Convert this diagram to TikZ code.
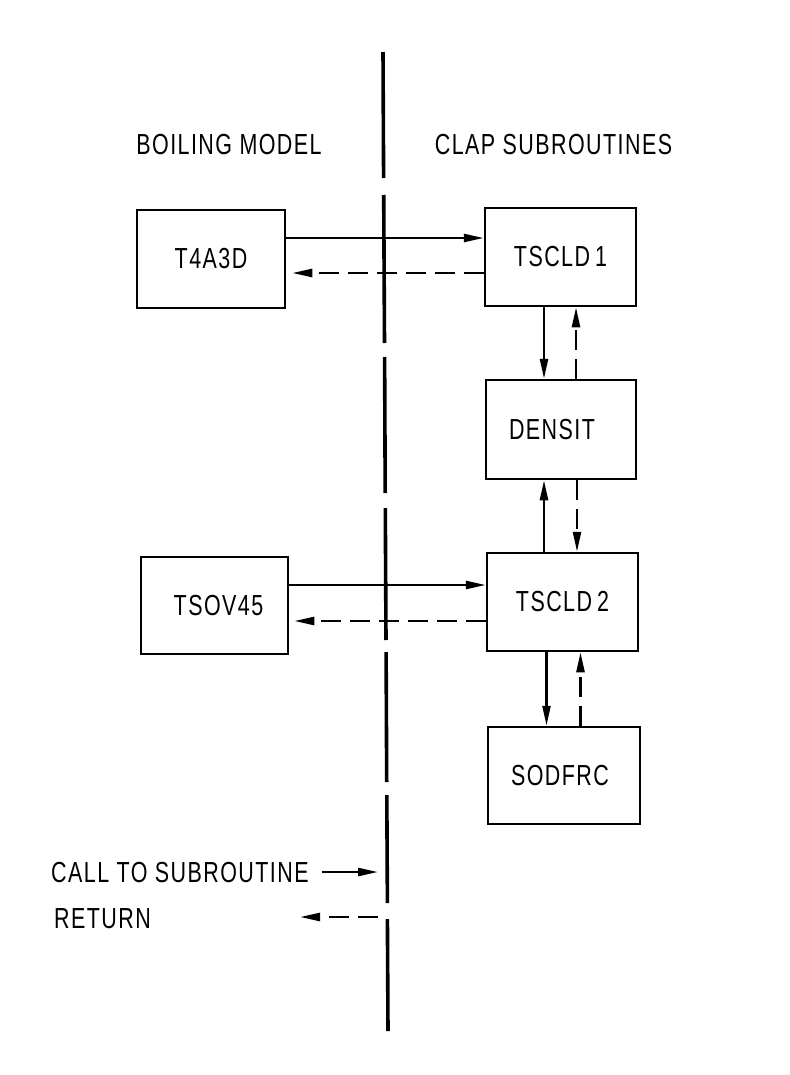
\documentclass[tikz,border=0pt]{standalone}
\usepackage{fontspec}
\setmainfont{Liberation Sans}[FakeStretch=0.74,LetterSpace=5]
\usetikzlibrary{arrows.meta}
\begin{document}
\begin{tikzpicture}[x=1pt,y=-1pt,
  lbl/.style={font=\fontsize{29}{34}\selectfont,inner sep=0pt},
  box/.style={draw,line width=2.5pt,inner sep=0pt,font=\fontsize{29}{34}\selectfont},
  callarrow/.style={line width=2.5pt,-{Triangle[length=20pt,width=8pt]}},
  retarrow/.style={line width=2.5pt,dash pattern=on 20pt off 9pt,-{Triangle[length=20pt,width=8pt]}},
  divider/.style={line width=3.6pt}
]
\fill[white] (0,0) rectangle (789,1075);
\useasboundingbox (0,0) rectangle (789,1075);

% headings
\node[lbl,anchor=base] (hleft) at (229,155) {BOILING MODEL};
\node[lbl,anchor=base] (hright) at (553.5,155) {CLAP SUBROUTINES};

% divider
\draw[divider] (383.0,52) -- (383.6,178);
\draw[divider] (383.7,195) -- (384.5,343);
\draw[divider] (384.6,357) -- (385.2,493);
\draw[divider] (385.3,508) -- (386.0,640);
\draw[divider] (386.1,652) -- (386.7,782);
\draw[divider] (386.8,795) -- (387.4,903);
\draw[divider] (387.4,919) -- (388.0,1031);

% boxes
\node[box,minimum width=148pt,minimum height=98pt] (t4a3d) at (211,259) {T4A3D};
\node[box,minimum width=151pt,minimum height=98pt] (tscld1) at (560.5,257) {TSCLD\kern5pt 1};
\node[box,minimum width=150pt,minimum height=99pt] (densit) at (561,429.5) {\hspace*{-18pt}DENSIT};
\node[box,minimum width=151pt,minimum height=98pt] (tscld2) at (562.5,602) {TSCLD\kern5pt 2};
\node[box,minimum width=147pt,minimum height=97pt] (tsov45) at (214.5,605.5) {\hspace*{8pt}TSOV45};
\node[box,minimum width=152pt,minimum height=97pt] (sodfrc) at (564,775.5) {\hspace*{-8pt}SODFRC};

% T4A3D <-> TSCLD1
\draw[callarrow] ([yshift=21pt]t4a3d.east) -- ([yshift=21pt]t4a3d.east -| tscld1.west);
\draw[retarrow,shorten >=6pt] ([yshift=-16pt]tscld1.west) -- ([yshift=-16pt]tscld1.west -| t4a3d.east);

% TSCLD1 <-> DENSIT
\draw[callarrow] ([xshift=-16.5pt]tscld1.south) -- ([xshift=-16.5pt]tscld1.south |- densit.north);
\draw[retarrow] ([xshift=15.5pt]tscld1.south |- densit.north) -- ([xshift=15.5pt]tscld1.south);

% TSCLD2 <-> DENSIT
\draw[callarrow] ([xshift=-18.5pt]tscld2.north) -- ([xshift=-18.5pt]tscld2.north |- densit.south);
\draw[retarrow] ([xshift=14.5pt]tscld2.north |- densit.south) -- ([xshift=14.5pt]tscld2.north);

% TSOV45 <-> TSCLD2
\draw[callarrow] ([yshift=20.5pt]tsov45.east) -- ([yshift=20.5pt]tsov45.east -| tscld2.west);
\draw[retarrow,shorten >=5pt] ([yshift=-19pt]tscld2.west) -- ([yshift=-19pt]tscld2.west -| tsov45.east);

% TSCLD2 <-> SODFRC
\draw[callarrow] ([xshift=-16pt]tscld2.south) -- ([xshift=-16pt]tscld2.south |- sodfrc.north);
\draw[retarrow] ([xshift=18pt]tscld2.south |- sodfrc.north) -- ([xshift=18pt]tscld2.south);

% legend
\node[lbl,anchor=base west] (call) at (51,882) {CALL TO SUBROUTINE};
\node[lbl,anchor=base west] (ret) at (54,928) {RETURN};
\coordinate (callend) at (378,870);
\coordinate (retstart) at (378,917);
\coordinate (rettip) at (300,917);
\draw[callarrow] ([xshift=13pt]call.east) -- (callend |- call.east);
\draw[retarrow] (retstart) -- (rettip);
\end{tikzpicture}
\end{document}
